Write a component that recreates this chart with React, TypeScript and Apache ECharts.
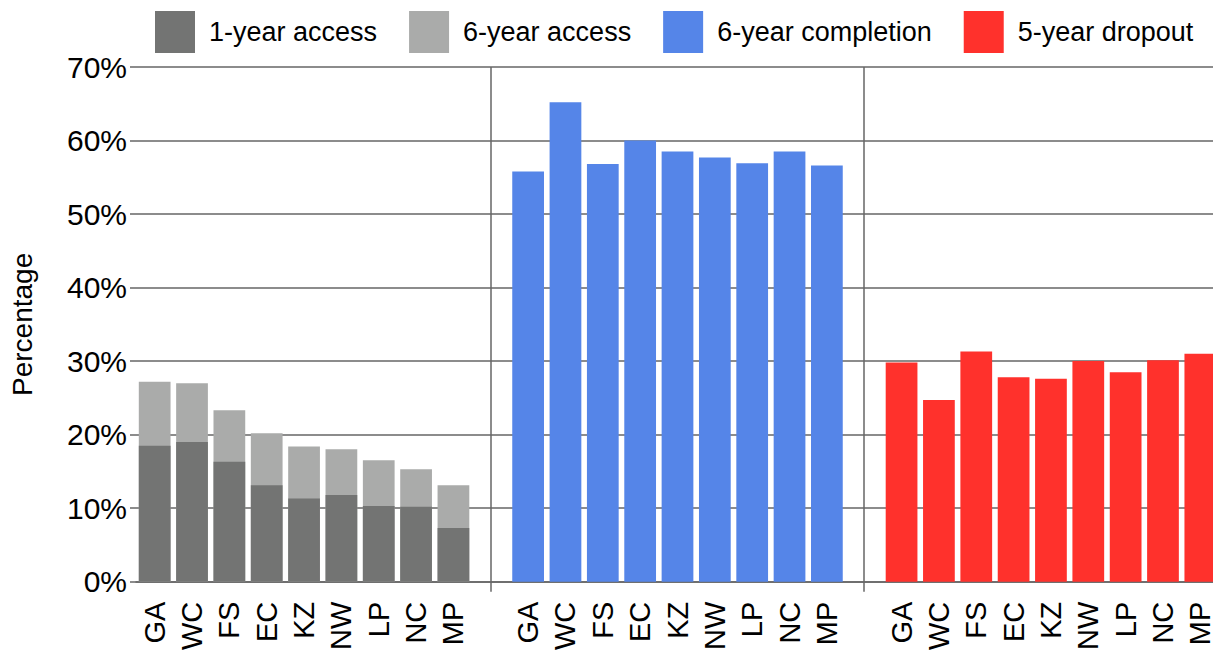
import React, { useEffect, useRef } from "react";
import * as echarts from "echarts";

const provinces = ["GA", "WC", "FS", "EC", "KZ", "NW", "LP", "NC", "MP"];
const oneYearAccess = [18.5, 19.0, 16.3, 13.1, 11.3, 11.8, 10.3, 10.2, 7.3];
const sixYearAccess = [27.2, 27.0, 23.3, 20.2, 18.4, 18.0, 16.5, 15.3, 13.1];
const sixYearCompletion = [55.8, 65.2, 56.8, 60.0, 58.5, 57.7, 56.9, 58.5, 56.6];
const fiveYearDropout = [29.8, 24.7, 31.3, 27.8, 27.6, 30.0, 28.5, 30.1, 31.0];
const yTicks = [0, 10, 20, 30, 40, 50, 60, 70];

const legendNames = ["1-year access", "6-year access", "6-year completion", "5-year dropout"];
const colors = {
  one: "#737473",
  six: "#aaabaa",
  comp: "#5585e8",
  drop: "#ff312c",
};

const n = provinces.length;
const categories = [...provinces, "", ...provinces, " ", ...provinces];
const gapIdx = [n, 2 * n + 1];

function place(vals: number[], panel: number): (number | null)[] {
  const out: (number | null)[] = categories.map(() => null);
  const off = panel * (n + 1);
  vals.forEach((v, i) => {
    out[off + i] = v;
  });
  return out;
}

const gridColor = "#666666";

export default function App() {
  const ref = useRef<HTMLDivElement>(null);
  useEffect(() => {
    if (!ref.current) return;
    const chart = echarts.init(ref.current, null, { renderer: "svg" });
    const barBase = {
      type: "bar" as const,
      barGap: "-100%",
      barCategoryGap: "15%",
    };
    chart.setOption({
      animation: false,
      textStyle: { fontFamily: "Liberation Sans, Arial, sans-serif" },
      legend: {
        data: legendNames,
        top: 11,
        left: 155,
        padding: 0,
        itemWidth: 40,
        itemHeight: 42,
        itemGap: 32,
        icon: "rect",
        textStyle: { fontSize: 27, color: "#000", padding: [0, 0, 0, 9] },
      },
      grid: { left: 131, top: 67, bottom: 70, right: 0, containLabel: false },
      xAxis: {
        type: "category",
        data: categories,
        axisLine: { show: true, lineStyle: { color: gridColor, width: 1.5 } },
        axisTick: {
          show: true,
          alignWithLabel: true,
          length: 10,
          interval: (i: number) => gapIdx.includes(i),
          lineStyle: { color: gridColor, width: 1.5 },
        },
        axisLabel: {
          interval: 0,
          rotate: 90,
          fontSize: 29,
          color: "#000",
          margin: 20,
        },
      },
      yAxis: {
        type: "value",
        min: yTicks[0],
        max: yTicks[yTicks.length - 1],
        interval: 10,
        name: "Percentage",
        nameLocation: "middle",
        nameGap: 100,
        nameTextStyle: { fontSize: 28, color: "#000" },
        axisLine: { show: false },
        axisTick: { show: true, length: 6, lineStyle: { color: gridColor, width: 1.5 } },
        axisLabel: { formatter: "{value}%", fontSize: 30, color: "#000", margin: 9 },
        splitLine: { show: true, lineStyle: { color: gridColor, width: 1.5 } },
      },
      series: [
        {
          ...barBase,
          name: "6-year access",
          data: place(sixYearAccess, 0),
          itemStyle: { color: colors.six },
          markLine: {
            silent: true,
            symbol: "none",
            label: { show: false },
            lineStyle: { color: gridColor, width: 1.5, type: "solid" },
            data: gapIdx.map((g) => ({ xAxis: g })),
          },
        },
        {
          ...barBase,
          name: "1-year access",
          data: place(oneYearAccess, 0),
          itemStyle: { color: colors.one },
        },
        {
          ...barBase,
          name: "6-year completion",
          data: place(sixYearCompletion, 1),
          itemStyle: { color: colors.comp },
        },
        {
          ...barBase,
          name: "5-year dropout",
          data: place(fiveYearDropout, 2),
          itemStyle: { color: colors.drop },
        },
      ],
    });
    return () => chart.dispose();
  }, []);
  return (
    <div style={{ position: "fixed", left: 0, top: 0, width: 1213, height: 653, overflow: "hidden", background: "#fff" }}>
      <div ref={ref} style={{ width: 1219, height: 653 }} />
    </div>
  );
}
